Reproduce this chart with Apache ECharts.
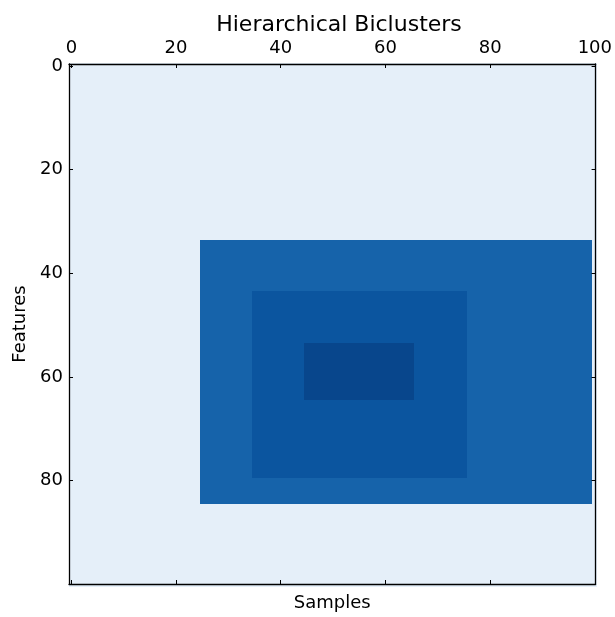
<!DOCTYPE html>
<html>
<head>
<meta charset="utf-8">
<script src="https://cdn.jsdelivr.net/npm/echarts@6/dist/echarts.min.js"></script>
<style>
  html, body { margin: 0; padding: 0; background: #fff; }
  #chart { width: 615px; height: 617px; }
</style>
</head>
<body>
<div id="chart"></div>
<script>
// Matrix shape (rows = features, columns = samples); the last row/column is cut by the frame
const nRows = 101;
const nCols = 101;

// Level of the cells outside every bicluster
const baseLevel = 0.09;

// Nested biclusters: outer, middle, inner (inclusive index ranges)
const blockRowStart = [34, 44, 54];
const blockRowEnd   = [84, 79, 64];
const blockColStart = [25, 35, 45];
const blockColEnd   = [99, 75, 65];
const blockLevel    = [0.805, 0.86, 0.915];

// Tick labels
const xTicks = [0, 20, 40, 60, 80, 100];
const yTicks = [0, 20, 40, 60, 80];

// Sequential "Blues" palette
const blues = ['#f7fbff', '#deebf7', '#c6dbef', '#9ecae1', '#6baed6',
               '#4292c6', '#2171b5', '#08519c', '#08306b'];

// One [col, row, level] entry per matrix cell
const cells = [];
for (let r = 0; r < nRows; r++) {
  for (let c = 0; c < nCols; c++) {
    let v = baseLevel;
    for (let b = 0; b < blockLevel.length; b++) {
      if (r >= blockRowStart[b] && r <= blockRowEnd[b] &&
          c >= blockColStart[b] && c <= blockColEnd[b]) {
        v = blockLevel[b];
      }
    }
    cells.push([c, r, v]);
  }
}

const font = 'DejaVu Sans';
const lineStyle = { color: '#000', width: 1.3 };
const tickStyle = { color: '#000', width: 1 };
const xRange = { min: -0.45, max: 100.15 };
const yRange = { min: -0.38, max: 99.92 };

const chart = echarts.init(document.getElementById('chart'), null, { renderer: 'canvas' });

chart.setOption({
  animation: false,
  backgroundColor: '#fff',
  title: {
    text: 'Hierarchical Biclusters',
    left: 334,
    top: 9,
    textAlign: 'center',
    textStyle: { fontFamily: font, fontSize: 22, fontWeight: 'normal', color: '#000' }
  },
  grid: { left: 69, top: 64, width: 529, height: 524, containLabel: false },
  visualMap: {
    show: false,
    min: 0,
    max: 1,
    dimension: 2,
    seriesIndex: 0,
    inRange: { color: blues }
  },
  xAxis: [
    {
      type: 'value',
      position: 'top',
      min: xRange.min,
      max: xRange.max,
      z: 10,
      axisLine: { show: true, onZero: false, lineStyle: lineStyle },
      axisTick: { show: true, inside: true, length: 4, customValues: xTicks, lineStyle: tickStyle },
      axisLabel: { show: true, customValues: xTicks, fontFamily: font, fontSize: 18, color: '#000', margin: 7 },
      splitLine: { show: false }
    },
    {
      type: 'value',
      position: 'bottom',
      min: xRange.min,
      max: xRange.max,
      z: 10,
      name: 'Samples',
      nameLocation: 'middle',
      nameGap: 10,
      nameTextStyle: { fontFamily: font, fontSize: 18, color: '#000', verticalAlign: 'top' },
      axisLine: { show: true, onZero: false, lineStyle: lineStyle },
      axisTick: { show: true, inside: true, length: 4, customValues: xTicks, lineStyle: tickStyle },
      axisLabel: { show: false },
      splitLine: { show: false }
    }
  ],
  yAxis: [
    {
      type: 'value',
      position: 'left',
      inverse: true,
      min: yRange.min,
      max: yRange.max,
      z: 10,
      name: 'Features',
      nameLocation: 'middle',
      nameGap: 38,
      nameRotate: 90,
      nameTextStyle: { fontFamily: font, fontSize: 18, color: '#000' },
      axisLine: { show: true, onZero: false, lineStyle: lineStyle },
      axisTick: { show: true, inside: true, length: 4, customValues: yTicks, lineStyle: tickStyle },
      axisLabel: { show: true, customValues: yTicks, fontFamily: font, fontSize: 18, color: '#000', margin: 6 },
      splitLine: { show: false }
    },
    {
      type: 'value',
      position: 'right',
      inverse: true,
      min: yRange.min,
      max: yRange.max,
      z: 10,
      axisLine: { show: true, onZero: false, lineStyle: lineStyle },
      axisTick: { show: true, inside: true, length: 4, customValues: yTicks, lineStyle: tickStyle },
      axisLabel: { show: false },
      splitLine: { show: false }
    }
  ],
  series: [
    {
      type: 'custom',
      xAxisIndex: 0,
      yAxisIndex: 0,
      clip: true,
      z: 1,
      data: cells,
      renderItem: function (params, api) {
        const x = api.value(0);
        const y = api.value(1);
        const p0 = api.coord([x - 0.5, y - 0.5]);
        const p1 = api.coord([x + 0.5, y + 0.5]);
        // Snap cell edges to whole pixels so neighbouring cells meet without seams
        const x0 = Math.round(Math.min(p0[0], p1[0]));
        const x1 = Math.round(Math.max(p0[0], p1[0]));
        const y0 = Math.round(Math.min(p0[1], p1[1]));
        const y1 = Math.round(Math.max(p0[1], p1[1]));
        return {
          type: 'rect',
          shape: { x: x0, y: y0, width: x1 - x0, height: y1 - y0 },
          style: { fill: api.visual('color') },
          silent: true
        };
      }
    }
  ]
});
</script>
</body>
</html>
